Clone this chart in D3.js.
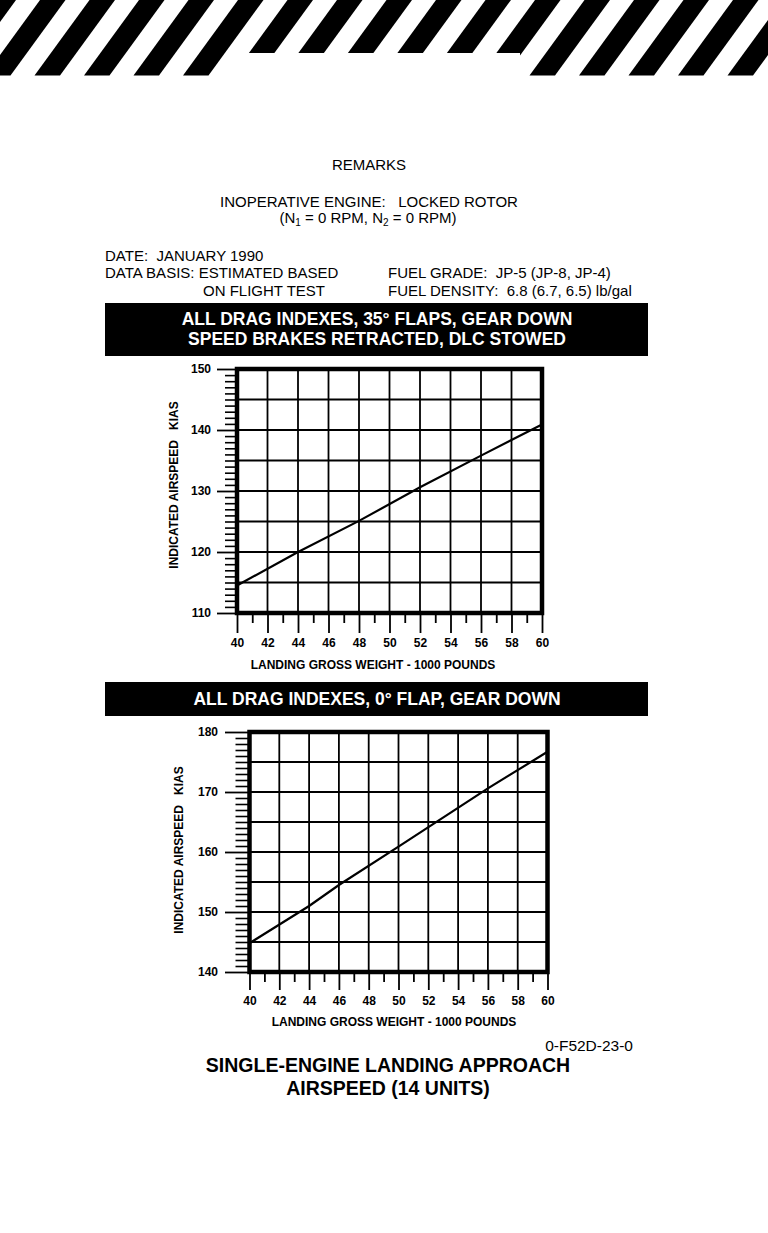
<!DOCTYPE html>
<html>
<head>
<meta charset="utf-8">
<script src="https://cdn.jsdelivr.net/npm/d3@7"></script>
<style>
  body { margin: 0; background: #fff; }
  svg { display: block; font-family: "Liberation Sans", Arial, sans-serif; }
  text { white-space: pre; }
</style>
</head>
<body>
<div id="page"></div>
<script>
// landing gross weight, 1000 lb (shared x axis)
const weightTicks = [40, 42, 44, 46, 48, 50, 52, 54, 56, 58, 60];

// 35 deg flaps, gear down
const flaps35Weight = [40, 44, 48, 52, 56, 60];
const flaps35Kias = [114.5, 120, 125.1, 130.6, 135.8, 140.9];
const flaps35Ticks = [110, 120, 130, 140, 150];

// 0 deg flap, gear down
const flaps0Weight = [40, 44, 46, 50, 56, 60];
const flaps0Kias = [144.8, 151, 154.5, 160.9, 170.6, 176.7];
const flaps0Ticks = [140, 150, 160, 170, 180];

const W = 768, H = 1233;
const svg = d3.select("#page").append("svg")
  .attr("width", W)
  .attr("height", H);

svg.append("rect").attr("width", W).attr("height", H).attr("fill", "#fff");

// hazard stripes across the top
const stripes = svg.append("g");
d3.range(-5, 13).forEach(k => {
  const x0 = 183 + 49.5 * k;
  stripes.append("path")
    .attr("d", `M${x0},75.5 L${x0 + 25.5},75.5 L${x0 + 80.5},0 L${x0 + 55},0 Z`)
    .attr("fill", "#000");
});
svg.append("rect")
  .attr("x", 227).attr("y", 53)
  .attr("width", 293).attr("height", 30)
  .attr("fill", "#fff");

// header text
function txt(x, y, s, opts = {}) {
  return svg.append("text")
    .attr("x", x).attr("y", y)
    .attr("font-size", opts.size || 15)
    .attr("font-weight", opts.bold ? "bold" : "normal")
    .attr("text-anchor", opts.anchor || "start")
    .attr("fill", opts.fill || "#000")
    .text(s);
}

txt(369, 170, "REMARKS", { anchor: "middle" });
txt(369, 207, "INOPERATIVE ENGINE:   LOCKED ROTOR", { anchor: "middle" });

const nLine = svg.append("text")
  .attr("x", 368).attr("y", 223)
  .attr("font-size", 15)
  .attr("text-anchor", "middle");
nLine.append("tspan").text("(N");
nLine.append("tspan").attr("font-size", 10).attr("dy", 3).text("1");
nLine.append("tspan").attr("dy", -3).text(" = 0 RPM, N");
nLine.append("tspan").attr("font-size", 10).attr("dy", 3).text("2");
nLine.append("tspan").attr("dy", -3).text(" = 0 RPM)");

txt(105, 261, "DATE:  JANUARY 1990");
txt(105, 278, "DATA BASIS: ESTIMATED BASED");
txt(203, 296, "ON FLIGHT TEST");
txt(388, 278, "FUEL GRADE:  JP-5 (JP-8, JP-4)");
txt(388, 296, "FUEL DENSITY:  6.8 (6.7, 6.5) lb/gal");

// black title bars
svg.append("rect").attr("x", 105).attr("y", 303).attr("width", 543).attr("height", 53).attr("fill", "#000");
txt(377, 325, "ALL DRAG INDEXES, 35° FLAPS, GEAR DOWN", { anchor: "middle", bold: true, size: 17.5, fill: "#fff" });
txt(377, 345, "SPEED BRAKES RETRACTED, DLC STOWED", { anchor: "middle", bold: true, size: 17.5, fill: "#fff" });

svg.append("rect").attr("x", 105).attr("y", 682).attr("width", 543).attr("height", 34).attr("fill", "#000");
txt(377, 705, "ALL DRAG INDEXES, 0° FLAP, GEAR DOWN", { anchor: "middle", bold: true, size: 17.5, fill: "#fff" });

function drawChart(c) {
  const x = d3.scaleLinear().domain([40, 60]).range([c.left, c.right]);
  const y = d3.scaleLinear().domain(c.yDomain).range([c.bottom, c.top]);
  const g = svg.append("g");

  // grid
  g.selectAll(".vgrid").data(weightTicks.slice(1, -1)).join("line")
    .attr("x1", d => x(d)).attr("x2", d => x(d))
    .attr("y1", c.top).attr("y2", c.bottom)
    .attr("stroke", "#000").attr("stroke-width", 1.8);
  const yGrid = d3.range(c.yDomain[0] + 5, c.yDomain[1], 5);
  g.selectAll(".hgrid").data(yGrid).join("line")
    .attr("x1", c.left).attr("x2", c.right)
    .attr("y1", d => y(d)).attr("y2", d => y(d))
    .attr("stroke", "#000").attr("stroke-width", 1.8);

  // y axis: minor, then labelled
  const minorY = d3.range(c.yDomain[0], c.yDomain[1] + 1).filter(v => !c.yTicks.includes(v));
  g.append("g").attr("transform", `translate(${c.left},0)`)
    .call(d3.axisLeft(y).tickValues(minorY).tickSize(c.yMinor).tickFormat(""))
    .call(a => a.select(".domain").remove())
    .selectAll("line").attr("stroke-width", 1.6);
  const yAx = g.append("g").attr("transform", `translate(${c.left},0)`)
    .call(d3.axisLeft(y).tickValues(c.yTicks).tickSize(c.yMajor).tickPadding(c.yPad))
    .call(a => a.select(".domain").remove());
  yAx.selectAll("line").attr("stroke-width", 1.8);
  yAx.selectAll("text")
    .attr("font-size", 12).attr("font-weight", "bold")
    .attr("font-family", "'Liberation Sans', Arial, sans-serif");

  // x axis: odd minor, even labelled
  const minorX = d3.range(41, 60, 2);
  g.append("g").attr("transform", `translate(0,${c.bottom})`)
    .call(d3.axisBottom(x).tickValues(minorX).tickSize(10).tickFormat(""))
    .call(a => a.select(".domain").remove())
    .selectAll("line").attr("stroke-width", 1.8);
  const xAx = g.append("g").attr("transform", `translate(0,${c.bottom})`)
    .call(d3.axisBottom(x).tickValues(weightTicks).tickSize(c.xMajor).tickPadding(c.xPad))
    .call(a => a.select(".domain").remove());
  xAx.selectAll("line").attr("stroke-width", 1.8);
  xAx.selectAll("text")
    .attr("font-size", 12).attr("font-weight", "bold")
    .attr("font-family", "'Liberation Sans', Arial, sans-serif");

  // heavy frame
  g.append("rect")
    .attr("x", c.left).attr("y", c.top)
    .attr("width", c.right - c.left).attr("height", c.bottom - c.top)
    .attr("fill", "none").attr("stroke", "#000").attr("stroke-width", 4.5);

  // airspeed line
  const line = d3.line().x((d, i) => x(c.weight[i])).y(d => y(d));
  g.append("path")
    .attr("d", line(c.kias))
    .attr("fill", "none").attr("stroke", "#000").attr("stroke-width", 2.2);

  // titles
  g.append("text")
    .attr("transform", `translate(${c.yTitleX},${c.yTitleY}) rotate(-90)`)
    .attr("text-anchor", "middle")
    .attr("font-size", 12).attr("font-weight", "bold")
    .text("INDICATED AIRSPEED   KIAS");
  g.append("text")
    .attr("x", c.xTitleX).attr("y", c.xTitleY)
    .attr("text-anchor", "middle")
    .attr("font-size", 12).attr("font-weight", "bold")
    .text("LANDING GROSS WEIGHT - 1000 POUNDS");
}

drawChart({
  left: 237, right: 542, top: 369, bottom: 613,
  yDomain: [110, 150], yTicks: flaps35Ticks,
  weight: flaps35Weight, kias: flaps35Kias,
  yMajor: 20, yMinor: 12, yPad: 6,
  xMajor: 20, xPad: 5,
  yTitleX: 178, yTitleY: 485,
  xTitleX: 373, xTitleY: 669
});

drawChart({
  left: 249.5, right: 547.5, top: 732, bottom: 972,
  yDomain: [140, 180], yTicks: flaps0Ticks,
  weight: flaps0Weight, kias: flaps0Kias,
  yMajor: 24.5, yMinor: 14, yPad: 7,
  xMajor: 18, xPad: 6,
  yTitleX: 183, yTitleY: 850,
  xTitleX: 394, xTitleY: 1026
});

// footer
txt(633, 1051, "0-F52D-23-0", { anchor: "end", size: 15.5 });
txt(388, 1072, "SINGLE-ENGINE LANDING APPROACH", { anchor: "middle", bold: true, size: 19.5 });
txt(388, 1095, "AIRSPEED (14 UNITS)", { anchor: "middle", bold: true, size: 19.5 });
</script>
</body>
</html>
